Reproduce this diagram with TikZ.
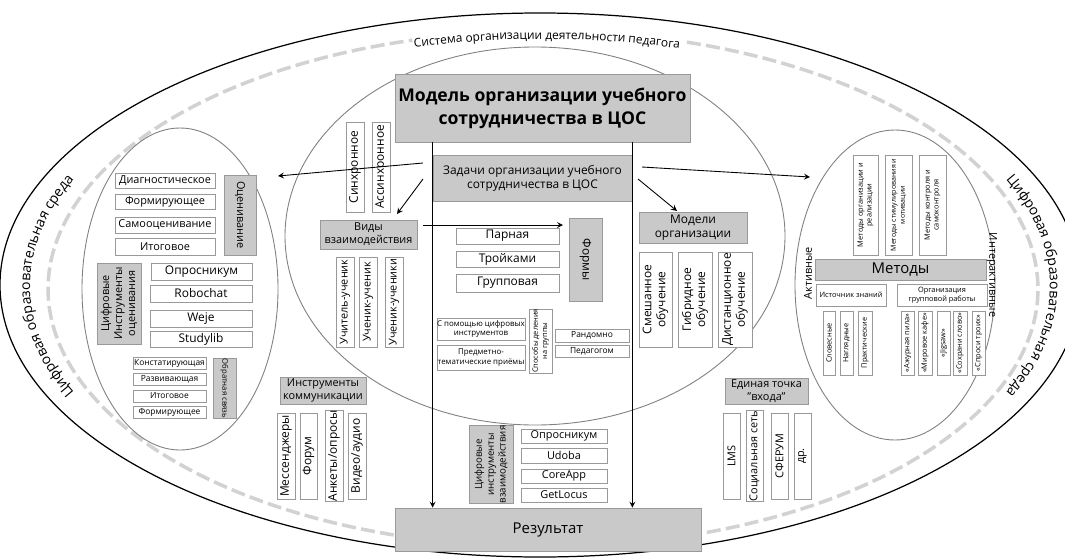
\documentclass[tikz,border=0pt]{standalone}
\usepackage{fontspec}
\setmainfont{Open Sans}
\usetikzlibrary{decorations.text}

\begin{document}
\begin{tikzpicture}[
    x=0.02cm, y=-0.02cm,
    sz/.style 2 args={minimum width=#1*0.02cm, minimum height=#2*0.02cm},
    gbox/.style={rectangle, draw=gray!80, fill=gray!42, inner sep=0pt, align=center, font=\fontsize{6.8}{8}\selectfont},
    wbox/.style={rectangle, draw=gray!80, fill=white, inner sep=0pt, align=center, font=\fontsize{6.8}{8}\selectfont},
    f6/.style={font=\fontsize{6.2}{7.4}\selectfont},
    f5/.style={font=\fontsize{4.8}{5.8}\selectfont},
    f4/.style={font=\fontsize{4.2}{5.1}\selectfont},
    arrow/.style={->, >=stealth, line width=0.5pt},
    ell/.style={draw=gray, line width=0.5pt},
    envtext/.style={decorate, decoration={text along path, text align=center, text={#1}}}
]
\path[use as bounding box, clip] (0,0) rectangle (1065,558);
\fill[white] (0,0) rectangle (1065,558);

% environment and teacher system
\draw[line width=0.7pt] (540,285) ellipse [x radius=540, y radius=272];
\draw[gray!35, line width=2pt, dash pattern=on 8pt off 3pt] plot[domain=286.9:614.7, samples=200] ({543+495*cos(\x)},{289+258*sin(\x)});
\path[envtext={|\fontsize{8}{8}\selectfont|Цифровая образовательная среда}] plot[domain=135:225, samples=90] ({540+510*cos(\x)},{286+262*sin(\x)});
\path[envtext={|\fontsize{8}{8}\selectfont|Цифровая образовательная среда}] plot[domain=-45:45, samples=90] ({540+510*cos(\x)},{286+262*sin(\x)});
\path[envtext={|\fontsize{6.8}{7}\selectfont|Система организации деятельности педагога}] plot[domain=248:293, samples=90] ({543+490*cos(\x)},{289+250*sin(\x)});

\draw[ell] (535,236) ellipse [x radius=250, y radius=189];
\draw[ell] (180,289) ellipse [x radius=98, y radius=161];
\draw[ell] (895,285) ellipse [x radius=100, y radius=155];

% model core
\node[gbox, sz={295}{68}, font=\fontsize{10}{13}\selectfont\bfseries] (title) at (542.5,108) {Модель организации учебного\\сотрудничества в ЦОС};
\node[gbox, sz={199}{46}] (zadachi) at (532.5,178) {Задачи организации учебного\\сотрудничества в ЦОС};
\node[gbox, sz={306}{43}, font=\fontsize{8.5}{10}\selectfont] (result) at (548,529.5) {Результат};

% evaluation
\node[wbox, f6, sz={100}{15}] (diag) at (165,180.5) {Диагностическое};
\node[wbox, f6, sz={100}{15}] (form1) at (165,201.5) {Формирующее};
\node[wbox, f6, sz={100}{16}] (samo) at (165,225) {Самооценивание};
\node[wbox, f6, sz={100}{17}] (itog1) at (165,246.5) {Итоговое};
\node[gbox, f6, sz={80}{32}, rotate=-90] (ocen) at (240,215) {Оценивание};
\node[gbox, f6, sz={81}{44}, rotate=90] (cifrO) at (119,303.5) {Цифровые\\Инструменты\\оценивания};
\node[wbox, sz={101}{17}] (oprosL) at (201.5,271.5) {Опросникум};
\node[wbox, sz={102}{17}] (robochat) at (201,293.5) {Robochat};
\node[wbox, sz={102}{17}] (weje) at (201,318.5) {Weje};
\node[wbox, sz={102}{16}] (studylib) at (201,339) {Studylib};
\node[wbox, f5, sz={73}{12}] (konst) at (169.5,363) {Констатирующая};
\node[wbox, f5, sz={73}{12}] (razv) at (169.5,379) {Развивающая};
\node[wbox, f5, sz={73}{12}] (itog2) at (169.5,396) {Итоговое};
\node[wbox, f5, sz={73}{12}] (form2) at (169.5,412) {Формирующее};
\node[gbox, sz={59}{23}, rotate=-90, font=\fontsize{4.4}{5}\selectfont] (obrat) at (224.5,388.5) {Обратная связь};

% interaction
\node[wbox, sz={90}{18}, rotate=90] (sinhr) at (355,167) {Синхронное};
\node[wbox, sz={90}{18}, rotate=90] (asinhr) at (381,167) {Ассинхронное};
\node[gbox, f6, sz={97}{29}] (vidy) at (368.5,234.5) {Виды\\взаимодействия};
\node[wbox, f6, sz={90}{18}, rotate=90] (uch1) at (345,302) {Учитель-ученик};
\node[wbox, f6, sz={90}{18}, rotate=90] (uch2) at (368,302) {Ученик-ученик};
\node[wbox, f6, sz={90}{18}, rotate=90] (uch3) at (394,302) {Ученик-ученики};

% forms
\node[wbox, sz={103}{16}] (parn) at (507.5,236) {Парная};
\node[wbox, sz={103}{16}] (troik) at (507.5,259) {Тройками};
\node[wbox, sz={103}{18}] (grupp) at (507.5,283) {Групповая};
\node[gbox, sz={83}{33}, rotate=-90] (formy) at (585.5,259.5) {Формы};
\node[wbox, sz={88}{22}, font=\fontsize{4.5}{5.6}\selectfont] (spom) at (481,329) {С помощью цифровых\\инструментов};
\node[wbox, sz={88}{25}, font=\fontsize{4.5}{5.6}\selectfont] (predm) at (481,357.5) {Предметно-\\тематические приёмы};
\node[wbox, sz={58}{23}, rotate=90, font=\fontsize{4.2}{5.2}\selectfont] (sposob) at (540.5,341) {Способы деления\\на группы};
\node[wbox, f5, sz={74}{13}] (random) at (592,335.5) {Рандомно};
\node[wbox, f5, sz={74}{12}] (pedag) at (592,351) {Педагогом};

% organisation models
\node[gbox, sz={108}{31}] (modeli) at (693,227.5) {Модели\\организации};
\node[wbox, sz={95}{33}, rotate=90] (smesh) at (655.5,299.5) {Смешанное\\обучение};
\node[wbox, sz={95}{34}, rotate=90] (gibr) at (695,299.5) {Гибридное\\обучение};
\node[wbox, sz={95}{34}, rotate=90] (dist) at (735,299.5) {Дистанционное\\обучение};

% methods
\node[wbox, f4, sz={100}{25}, rotate=90] (mOrg) at (865.5,205) {Методы организации и\\реализации};
\node[wbox, sz={100}{27}, rotate=90, font=\fontsize{4}{5.1}\selectfont] (mStim) at (898.5,205) {Методы стимулирования и\\мотивации};
\node[wbox, f4, sz={100}{27}, rotate=90] (mKontr) at (932.5,205) {Методы контроля и\\самоконтроля};
\node[gbox, sz={171}{21}, font=\fontsize{8.5}{10}\selectfont] (metody) at (900.5,269.5) {Методы};
\node[f6, rotate=90, inner sep=0pt] (aktiv) at (808,273) {Активные};
\node[f6, rotate=-90, inner sep=0pt] (interakt) at (992,275) {Интерактивные};
\node[wbox, f4, sz={70}{22}] (istoch) at (851,295) {Источник знаний};
\node[wbox, f4, sz={90}{22}] (orgGr) at (942,295) {Организация\\групповой работы};
\node[wbox, f4, sz={64}{12}, rotate=90] (slov) at (829,343) {Словесные};
\node[wbox, f4, sz={64}{13}, rotate=90] (nagl) at (846.5,343) {Наглядные};
\node[wbox, f4, sz={64}{14}, rotate=90] (prakt) at (865,343) {Практические};
\node[wbox, f4, sz={64}{13}, rotate=90] (azhur) at (907.5,343) {«Ажурная пила»};
\node[wbox, f4, sz={64}{14}, rotate=90] (mirov) at (925,343) {«Мировое кафе»};
\node[wbox, f4, sz={64}{13}, rotate=90] (jigsaw) at (943.5,343) {«Jigsaw»};
\node[wbox, f4, sz={64}{14}, rotate=90] (sohr) at (960,343) {«Сохрани слово»};
\node[wbox, f4, sz={64}{13}, rotate=90] (sprosi) at (978.5,343) {«Спроси троих»};

% communication tools
\node[gbox, f6, sz={86}{27}] (instrK) at (323,390.5) {Инструменты\\коммуникации};
\node[wbox, sz={86}{18}, rotate=90] (messen) at (286,456) {Мессенджеры};
\node[wbox, sz={86}{17}, rotate=90] (forum) at (308.5,456) {Форум};
\node[wbox, sz={86}{18}, rotate=90] (anket) at (334,456) {Анкеты/опросы};
\node[wbox, sz={86}{18}, rotate=90] (video) at (357,456) {Видео/аудио};

% interaction tools
\node[gbox, sz={71}{44}, rotate=90, font=\fontsize{5.5}{6.8}\selectfont] (cifrV) at (491,464.5) {Цифровые\\инструменты\\взаимодействия};
\node[wbox, f6, sz={86}{14}] (oprosB) at (564,436) {Опросникум};
\node[wbox, f6, sz={86}{15}] (udoba) at (564,455.5) {Udoba};
\node[wbox, f6, sz={86}{14}] (coreapp) at (564,476) {CoreApp};
\node[wbox, f6, sz={86}{14}] (getlocus) at (564,495) {GetLocus};

% single entry point
\node[gbox, f6, sz={83}{26}] (edin) at (766.5,391) {Единая точка\\"входа"};
\node[wbox, f6, sz={86}{17}, rotate=90] (lms) at (731.5,456) {LMS};
\node[wbox, f6, sz={86}{17}, rotate=90] (socset) at (754.5,456) {Социальная сеть};
\node[wbox, f6, sz={86}{17}, rotate=90] (sferum) at (779.5,456) {СФЕРУМ};
\node[wbox, f6, sz={86}{17}, rotate=90] (dr) at (802.5,456) {др.};

% connectors
\coordinate (aL) at (423,163);
\coordinate (ocenEnd) at (278,176);
\coordinate (aV) at (423,179);
\coordinate (vidyEnd) at (397,214);
\coordinate (aF) at (423,225);
\coordinate (formyEnd) at (563,225);
\coordinate (aM) at (638,179);
\coordinate (modeliEnd) at (677,211);
\coordinate (aR) at (642,167);
\coordinate (metEnd) at (810,177);
\draw[arrow] (aL) -- (ocenEnd);
\draw[arrow] (aV) -- (vidyEnd);
\draw[arrow] (aF) -- (formyEnd);
\draw[arrow] (aM) -- (modeliEnd);
\draw[arrow] (aR) -- (metEnd);
\draw[arrow] (title.south -| zadachi.west) -- (result.north -| zadachi.west);
\draw[arrow] (title.south -| zadachi.east) -- (result.north -| zadachi.east);
\end{tikzpicture}
\end{document}
